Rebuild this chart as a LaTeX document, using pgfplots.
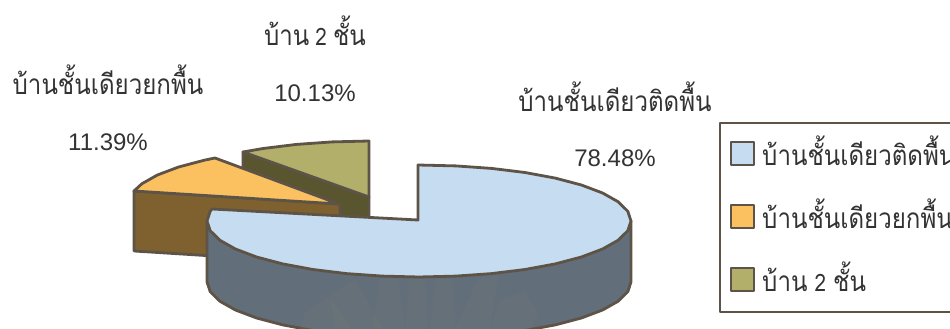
\documentclass[border=0pt]{standalone}
\usepackage{fontspec}
\usepackage{pgfplots}
\pgfplotsset{compat=1.18}
\setmainfont{Liberation Sans}
\newfontfamily\thaifont[Script=Thai,FakeStretch=0.86]{Loma}
\definecolor{edge}{HTML}{5E5347}
\definecolor{blueT}{HTML}{C6DCF0}
\definecolor{blueS}{HTML}{626E79}
\definecolor{orT}{HTML}{FBC060}
\definecolor{orS}{HTML}{7F6130}
\definecolor{olT}{HTML}{B1AF6A}
\definecolor{olS}{HTML}{58552F}
\definecolor{wm}{HTML}{8A8A70}
\newcommand{\lab}{\fontsize{24}{28}\selectfont}
\newcommand{\thai}{\thaifont\fontsize{28}{32}\selectfont}
\tikzset{lb/.style={anchor=base,text=black!80,inner sep=0pt}}
\begin{document}
\begin{tikzpicture}[x=1pt,y=1pt]
\path[use as bounding box] (0,0) rectangle (950,329);
\begin{axis}[
  at={(0,0)},anchor=south west,
  scale only axis,width=950pt,height=329pt,
  xmin=0,xmax=950,ymin=0,ymax=329,y dir=reverse,
  hide axis,clip=true,
  every axis plot/.append style={draw=edge,line width=2.8pt,line join=round,mark=none},
  wmray/.style={draw=none,fill=wm,fill opacity=0.10},
]
% olive wall + top
\addplot[fill=olS] coordinates {(243,152)(369,197)(369,258)(243,213)} -- cycle;
\addplot[fill=olT] coordinates {(369,197)(243,152)(263,148.5)(296.5,144.4)(332.2,141.9)(369,141)} -- cycle;
% orange wall + top
\addplot[fill=orS] coordinates {(134,191)(340,204)(340,264)(134,251)} -- cycle;
\addplot[fill=orT] coordinates {(339,204)(134,191)(141.8,183.8)(157.4,175)(178.6,167)(204.7,160.1)(215,158)} -- cycle;
% blue side
\addplot[fill=blueS] coordinates {
(631,221)(631,282)(627.8,291.7)(618.2,301.2)(602.6,310)(581.4,318)(555.3,324.9)(525,330.5)(491.5,334.6)(455.8,337.1)(419,338)
(382.2,337.1)(346.5,334.6)(313,330.5)(282.7,324.9)(256.6,318)(235.4,310)(219.8,301.2)(210.2,291.7)(207,282)(207,221)} -- cycle;
% faint watermark rays on the side wall
\addplot[wmray] coordinates {(300,329)(304,314)(328,296)(352,329)} -- cycle;
\addplot[wmray] coordinates {(336,329)(330,296)(355,279)(382,329)} -- cycle;
\addplot[wmray] coordinates {(372,329)(380,279)(398,279)(405,329)} -- cycle;
\addplot[wmray] coordinates {(405,329)(410,279)(425,279)(428,329)} -- cycle;
\addplot[wmray] coordinates {(430,329)(436,279)(452,279)(456,329)} -- cycle;
\addplot[wmray] coordinates {(455,329)(478,279)(498,276)(490,329)} -- cycle;
\addplot[wmray] coordinates {(490,329)(500,300)(525,292)(538,314)(530,329)} -- cycle;
% blue top
\addplot[fill=blueT] coordinates {
(418,220)(418,165)(455.8,165.9)(491.5,168.4)(525,172.5)(555.3,178.1)(581.4,185)(602.6,193)(618.2,201.8)(627.8,211.3)(631,221)
(627.8,230.7)(618.2,240.2)(602.6,249)(581.4,257)(555.3,263.9)(525,269.5)(491.5,273.6)(455.8,276.1)(419,277)
(382.2,276.1)(346.5,273.6)(313,269.5)(282.7,263.9)(256.6,257)(235.4,249)(219.8,240.2)(210.2,230.7)(207,221)(210.2,211.3)(212,209)} -- cycle;
% legend frame and swatches
\addplot[fill=white] coordinates {(720,123)(960,123)(960,312)(720,312)} -- cycle;
\addplot[fill=blueT] coordinates {(731,142)(754,142)(754,165)(731,165)} -- cycle;
\addplot[fill=orT] coordinates {(731,205)(754,205)(754,228)(731,228)} -- cycle;
\addplot[fill=olT] coordinates {(731,268)(754,268)(754,291)(731,291)} -- cycle;
% labels
\node[lb] at (axis cs:315,46) {\thai บ้าน\hspace{-2pt} {\lab 2}\hspace{-2pt} ชั้น};
\node[lb] at (axis cs:315,101) {\lab 10.13\%};
\node[lb] at (axis cs:108,95) {\thai บ้านชั้นเดียวยกพื้น};
\node[lb] at (axis cs:108,150) {\lab 11.39\%};
\node[lb] at (axis cs:615,111) {\thai บ้านชั้นเดียวติดพื้น};
\node[lb] at (axis cs:615,166) {\lab 78.48\%};
\node[lb,anchor=base west] at (axis cs:762,165) {\thai บ้านชั้นเดียวติดพื้น};
\node[lb,anchor=base west] at (axis cs:762,228) {\thai บ้านชั้นเดียวยกพื้น};
\node[lb,anchor=base west] at (axis cs:762,291) {\thai บ้าน\hspace{-1pt} {\lab 2}\hspace{-1pt} ชั้น};
\end{axis}
\end{tikzpicture}
\end{document}
